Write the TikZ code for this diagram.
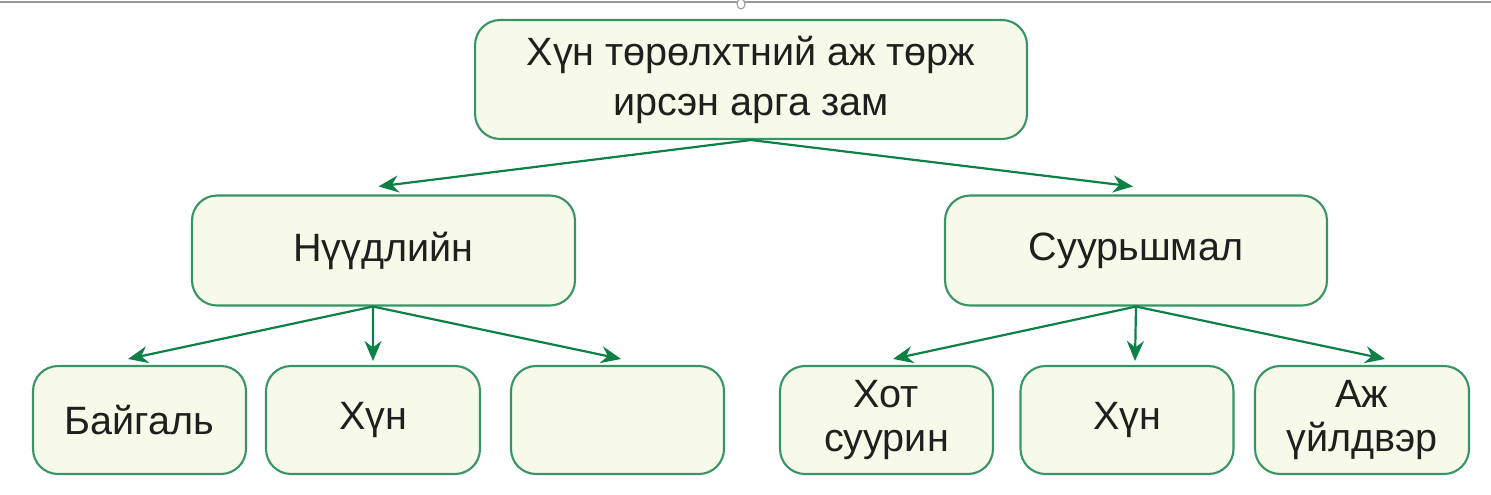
\documentclass[tikz,border=0pt]{standalone}
\usepackage{fontspec}
\setmainfont{Liberation Sans}
\usetikzlibrary{arrows.meta}
\definecolor{color1}{rgb}{0.22, 0.58, 0.40}
\definecolor{color2}{rgb}{0.97, 0.98, 0.91}
\definecolor{color3}{rgb}{0.05, 0.50, 0.27}

\begin{document}
\begin{tikzpicture}[x = 0.02cm, y = -0.02cm,
  box/.style = {draw = color1, line width = 1.2pt, fill = color2, rounded corners = 0.5cm,
    align = center, text = black!88, font = \fontsize{22.5}{25}\selectfont},
  arr/.style = {color3, line width = 1.25pt, -{Stealth[length = 0.4cm, width = 0.34cm]}}]

\useasboundingbox (0, 0) rectangle (1491, 494);
\draw [gray!80, line width = 0.8pt] (0, 2) -- (1491, 2);
\draw [gray!80, fill = white, line width = 0.6pt] (741, 4) ellipse (0.08cm and 0.1cm);

\node [box, minimum width = 11.04cm, minimum height = 2.38cm, font = \fontsize{22.5}{28.5}\selectfont]
  (root) at (751, 79.5) {Хүн төрөлхтний аж төрж\\ирсэн арга зам};
\node [box, minimum width = 7.66cm, minimum height = 2.2cm] (nomad) at (383.5, 250.5) {Нүүдлийн};
\node [box, minimum width = 7.64cm, minimum height = 2.2cm] (settled) at (1136, 250.5) {Суурьшмал};

\node [box, minimum width = 4.26cm, minimum height = 2.16cm] (nature) at (139.5, 420) {Байгаль};
\node [box, minimum width = 4.28cm, minimum height = 2.16cm] (humanA) at (373, 420) {Хүн};
\node [box, minimum width = 4.26cm, minimum height = 2.16cm] (blank) at (617.5, 420) {};
\node [box, minimum width = 4.26cm, minimum height = 2.16cm] (town) at (886.5, 420) {Хот\\суурин};
\node [box, minimum width = 4.26cm, minimum height = 2.16cm] (humanB) at (1127, 420) {Хүн};
\node [box, minimum width = 4.28cm, minimum height = 2.16cm] (industry) at (1362, 420) {Аж\\үйлдвэр};

\draw [arr] (root.south) -- ([xshift = -0.1cm, yshift = 0.16cm]nomad.north);
\draw [arr] (root.south) -- ([xshift = -0.06cm, yshift = 0.16cm]settled.north);

\draw [arr] ([xshift = -0.21cm]nomad.south) -- ([xshift = -0.23cm, yshift = 0.12cm]nature.north);
\draw [arr] ([xshift = -0.21cm]nomad.south) -- ([yshift = 0.08cm]humanA.north);
\draw [arr] ([xshift = -0.21cm]nomad.south) -- ([xshift = 0.07cm, yshift = 0.12cm]blank.north);

\draw [arr] (settled.south) -- ([xshift = 0.13cm, yshift = 0.12cm]town.north);
\draw [arr] (settled.south) -- ([xshift = 0.16cm, yshift = 0.08cm]humanB.north);
\draw [arr] (settled.south) -- ([xshift = 0.46cm, yshift = 0.12cm]industry.north);

\end{tikzpicture}
\end{document}
